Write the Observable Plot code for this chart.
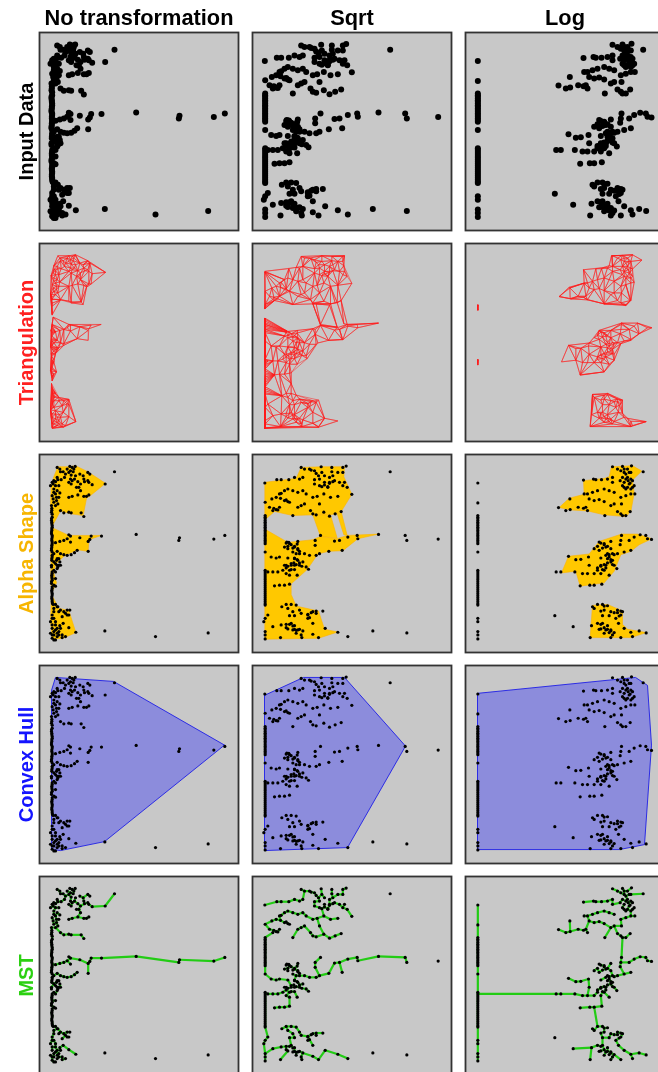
<!DOCTYPE html>
<html><head><meta charset="utf-8">
<script src="https://cdn.jsdelivr.net/npm/d3@7"></script>
<script src="https://cdn.jsdelivr.net/npm/@observablehq/plot@0.6"></script>
<style>html,body{margin:0;padding:0;background:#fff;overflow:hidden;width:658px;height:1072px}svg{display:block;filter:blur(.35px);max-width:none!important}</style>
</head><body><div id="c"></div>
<script>
const columns = ["No transformation", "Sqrt", "Log"];
const rows = ["Input Data", "Triangulation", "Alpha Shape", "Convex Hull", "MST"];
const rowColors = ["#000000", "#ff2020", "#f7b500", "#1414ff", "#2bd011"];

// point positions (1 unit = 1/3 pixel)
const rawPoints = [[170,135],[178,140],[188,148],[208,132],[224,132],[215,135],[205,150],[212,158],[218,148],[180,148],[172,172],[160,175],[155,180],[165,178],[182,172],[192,165],[210,170],[205,180],[225,160],[238,155],[248,160],[262,150],[268,155],[250,170],[232,178],[240,185],[252,178],[262,175],[275,187],[265,180],[212,185],[235,195],[240,205],[228,195],[205,225],[215,222],[232,218],[250,222],[265,218],[258,222],[160,200],[170,205],[165,215],[178,212],[175,225],[155,220],[168,235],[160,240],[172,245],[153,250],[180,265],[190,272],[205,270],[212,272],[242,272],[250,283],[153,270],[314,185],[303,342],[407,337],[537,347],[535,355],[640,351],[673,340],[272,342],[268,352],[263,358],[238,347],[205,338],[210,342],[200,350],[210,360],[190,355],[178,358],[165,362],[263,388],[230,385],[222,392],[212,398],[200,400],[190,398],[180,395],[170,388],[160,395],[155,390],[170,410],[178,420],[165,425],[172,435],[160,445],[175,430],[165,470],[160,490],[165,493],[165,548],[172,555],[160,560],[175,570],[200,565],[208,565],[195,575],[205,580],[185,585],[155,580],[160,590],[150,600],[188,605],[178,612],[205,618],[226,632],[155,620],[165,625],[175,630],[160,640],[155,650],[170,645],[185,640],[195,645],[150,635],[185,648],[342,148],
[154,258],[155,285],[153,295],[154,305],[155,315],[154,325],[153,335],[155,345],[154,355],[155,365],[154,375],[153,385],[155,405],[154,415],[153,435],[155,455],[154,465],[155,475],[153,485],[155,500],[154,510],[155,520],[154,530],[155,540],[158,548],
[154,264],[155,276],[153,290],[154,300],[155,310],[154,320],[153,330],[155,340],[154,350],[155,360],[154,370],[153,380],[155,400],[154,410],[153,430],[155,450],[154,460],[155,470],[153,480],[155,495],[154,505],[155,515],[154,525],[155,535],[156,545],
[168,415],[175,410],[160,420],[180,430],[170,440],[165,450],[170,430],[200,140],[195,155],[210,145],[220,140],[222,170],[215,175],[170,165],[158,185],[150,190],[165,190],[175,190],[160,210],[168,225],[158,230],[165,250],[170,555],[160,570],[180,565],[155,590],[165,600],[155,610],[165,610],[170,620],[180,620],[160,630],[170,635],[155,640],[165,655],[160,655],[175,640],[190,570],[200,580]];
const rawOutliers = [[313,628],[465,645],[623,634]];

const spineUpper = [280,285,290,295,300,305,310,315,320,325,330,335,340,345,350,355,360,365];
const spineLower = [445,450,456,462,468,474,480,486,492,498,504,510,516,522,528,534,540,546,550];
const sqrtPoints = [[170,135],[180,140],[195,140],[210,145],[230,133],[262,135],[262,148],[305,131],[295,135],[280,150],[295,150],[232,150],[240,160],[255,165],[265,160],[270,175],[255,180],[240,180],[225,170],[210,172],[210,185],[225,190],[250,195],[285,180],[300,180],[295,190],[308,195],[322,216],[61,182],[97,172],[110,172],[133,172],[150,165],[165,170],[175,165],[120,205],[130,200],[145,205],[160,210],[175,205],[185,215],[105,215],[95,225],[108,228],[120,235],[135,240],[82,230],[62,240],[75,255],[85,265],[95,262],[105,255],[170,250],[180,245],[160,255],[205,225],[218,222],[238,215],[258,225],[280,222],[225,245],[145,280],[198,265],[205,275],[215,278],[238,270],[255,282],[272,275],[290,268],[62,390],
[228,340],[212,355],[212,370],[270,357],[285,355],[310,345],[338,340],[340,350],[402,337],[482,340],[487,355],[127,360],[135,365],[160,358],[120,375],[130,380],[150,375],[160,380],[145,390],[155,395],[165,395],[180,395],[195,400],[215,400],[225,395],[253,388],[293,385],[80,405],[95,408],[105,405],[130,408],[150,410],[160,415],[175,420],[185,435],[192,442],[140,425],[125,430],[150,430],[165,430],[135,445],[115,445],[125,455],[135,460],[158,460],[100,450],[85,450],[70,450],[90,492],[105,490],[120,490],[135,487],
[112,555],[125,548],[140,548],[155,550],[130,560],[145,570],[165,565],[170,575],[190,580],[205,570],[215,575],[235,568],[150,582],[135,582],[190,590],[70,580],[62,590],[58,600],[205,605],[85,615],[110,610],[125,608],[140,605],[150,612],[130,622],[145,625],[160,625],[175,628],[155,635],[170,640],[242,620],[280,632],[310,645],[205,638],[222,648],[108,648],[62,630],[62,640],[62,652],[172,648],
[125,363],[133,361],[140,368],[150,373],[158,366],[145,378],[130,373],[160,383],[165,388],[150,408],[158,413],[148,423],[155,428],[165,423],[172,433],[140,430],[130,433],[120,430],[125,438],[140,443],[150,443],[200,143],[215,153],[222,160],[240,188],[255,183],[265,178],[250,193],[232,193],[110,213],[125,233],[130,238],[88,258],[100,263],[135,608],[145,613],[150,623],[155,626],[125,618],[165,623],[200,573],[190,578],[195,588],[215,568]];
const sqrtOutliers = [[437,148],[581,351],[385,628],[487,634]];

const logPoints = [[61,182],[61,242],[61,390],[61,590],[61,600],[61,630],[61,640],[61,652],
[465,133],[480,140],[495,132],[522,130],[510,140],[500,150],[515,150],[557,148],[495,165],[510,165],[520,170],[500,180],[515,185],[525,195],[495,190],[505,200],[378,173],[408,170],[415,172],[432,172],[450,170],[465,165],[465,180],[488,175],[380,215],[390,215],[405,210],[420,205],[440,200],[455,205],[470,210],[490,225],[505,220],[520,215],[532,215],[395,230],[410,235],[425,232],[440,238],[337,230],[303,256],[325,265],[338,262],[362,255],[378,258],[390,265],[385,255],[460,250],[470,245],[492,245],[442,280],[480,268],[490,275],[505,280],[518,268],[495,280],
[492,340],[490,355],[488,368],[515,355],[530,345],[548,338],[565,340],[570,350],[582,352],[425,360],[440,365],[460,358],[410,380],[425,385],[445,375],[460,380],[450,395],[465,395],[480,395],[500,390],[520,385],[333,403],[355,413],[370,412],[393,405],[430,408],[450,410],[465,415],[470,430],[478,440],[395,430],[430,430],[445,430],[420,445],[440,445],[455,460],[296,450],[310,450],[352,450],[375,455],[390,455],[410,455],[430,455],[368,492],[397,490],[410,490],[433,487],
[405,555],[420,548],[435,548],[450,552],[410,560],[440,565],[460,570],[480,565],[495,570],[490,580],[435,582],[455,582],[475,590],[347,615],[402,612],[420,605],[435,605],[450,612],[430,622],[445,625],[460,625],[440,635],[465,640],[483,605],[500,620],[520,632],[545,628],[566,634],[398,648],[490,648],[525,645],[460,648],
[490,145],[500,140],[505,155],[520,150],[505,170],[512,175],[525,175],[518,182],[500,195],[510,195],[520,200],[530,190],[430,363],[440,368],[450,373],[435,378],[420,373],[455,398],[460,413],[465,428],[450,423],[440,428],[430,433],[420,438],[435,443],[445,438],[470,398],[445,400],[455,405],[460,420],[430,608],[440,618],[450,623],[460,628],[470,633],[455,633],[425,623],[480,573],[490,568],[485,583],[470,573],[440,553],[430,568]];
const logOutliers = [[292,582]];

// outlines of the alpha shapes
const rawShapes = [
 [[172,55],[205,55],[225,52],[262,70],[315,105],[272,140],[258,150],[248,202],[212,197],[180,188],[155,234],[150,170],[152,115],[160,85]],
 [[158,240],[205,262],[302,262],[265,275],[263,310],[230,305],[190,325],[165,350],[160,375],[168,405],[155,432],[150,400],[152,350],[150,330],[152,280]],
 [[153,440],[175,482],[205,488],[226,555],[188,572],[155,575],[150,520]]];
const sqrtShapes = [
 [[61,102],[155,90],[170,57],[232,55],[300,55],[298,85],[322,138],[290,190],[278,196],[258,200],[205,200],[145,202],[90,190],[61,215]],
 [[205,200],[258,200],[278,270],[228,265]],
 [[278,196],[290,190],[308,262],[298,260]],
 [[61,243],[130,283],[205,275],[228,265],[278,272],[308,262],[402,258],[340,272],[295,308],[252,310],[220,318],[188,365],[140,408],[140,440],[155,475],[222,490],[240,545],[280,553],[222,572],[61,575]]];
const logShapes = [
 [[462,55],[525,52],[553,68],[525,95],[530,135],[520,190],[505,205],[440,200],[390,188],[340,185],[305,178],[335,150],[380,138],[378,97],[440,90],[455,85]],
 [[492,258],[540,258],[583,272],[545,290],[520,310],[490,320],[470,370],[440,405],[368,415],[355,370],[312,375],[333,325],[395,318],[425,280]],
 [[405,473],[450,470],[495,490],[495,530],[510,545],[566,555],[520,570],[398,570]],
 [[60,203],[62,203],[62,219],[60,219]],
 [[60,368],[62,368],[62,384],[60,384]]];

// convex hull outlines, panel units
const rawHull = [[36,555],[63,558],[195,531],[555,240],[222,48],[48,36],[36,75]];
const sqrtHull = [[36,90],[153,36],[276,36],[459,243],[285,549],[36,558]];
const logHull = [[36,84],[510,36],[546,60],[558,240],[537,540],[462,555],[36,555]];

const shift = (pts, dx, dy) => pts.map(([x, y]) => [x - dx, y - dy]);
const spine = (ys, x) => ys.map(y => [x, y]);

const panels = [
 {col: columns[0], main: shift(rawPoints, 117, 96), out: shift(rawOutliers, 117, 96),
  shapes: rawShapes.map(s => shift(s, 117, 18)), hull: rawHull},
 {col: columns[1], main: shift(sqrtPoints.concat(spine(spineUpper, 62), spine(spineLower, 62)), 24, 96), out: shift(sqrtOutliers, 24, 96),
  shapes: sqrtShapes.map(s => shift(s, 24, 18)), hull: sqrtHull},
 {col: columns[2], main: shift(logPoints.concat(spine(spineUpper, 61), spine(spineLower, 61)), 24, 96), out: shift(logOutliers, 24, 96),
  shapes: logShapes.map(s => shift(s, 24, 18)), hull: logHull}
];

const bigRows = [], smallRows = [], meshRows = [], fillRows = [], hullRows = [], mstRows = [];
for (const p of panels) {
  const all = p.main.concat(p.out);
  for (const [x, y] of all) {
    bigRows.push({col: p.col, x, y});
    for (const r of [2, 3, 4]) smallRows.push({col: p.col, row: rows[r], x, y});
  }
  p.shapes.forEach((s, i) => {
    s.concat([s[0]]).forEach(([x, y]) => fillRows.push({col: p.col, poly: i, x, y}));
    const verts = s.concat(all.filter(q => d3.polygonContains(s, q)));
    const t = d3.Delaunay.from(verts).triangles;
    const addEdge = (a, b) => meshRows.push({col: p.col, x1: verts[a][0], y1: verts[a][1], x2: verts[b][0], y2: verts[b][1]});
    for (let k = 0; k < t.length; k += 3) {
      const [a, b, c] = [t[k], t[k + 1], t[k + 2]];
      const cx = (verts[a][0] + verts[b][0] + verts[c][0]) / 3, cy = (verts[a][1] + verts[b][1] + verts[c][1]) / 3;
      if (!d3.polygonContains(s, [cx, cy])) continue;
      addEdge(a, b); addEdge(b, c); addEdge(c, a);
    }
    s.forEach((q, j) => addEdge(j, (j + 1) % s.length));
  });
  p.hull.concat([p.hull[0]]).forEach(([x, y]) => hullRows.push({col: p.col, x, y}));
  // minimum spanning tree over the Delaunay edges
  const verts = p.main;
  const del = d3.Delaunay.from(verts);
  const dist = (a, b) => Math.hypot(verts[a][0] - verts[b][0], verts[a][1] - verts[b][1]);
  const edges = [];
  for (let k = 0; k < del.halfedges.length; k++) {
    const j = del.halfedges[k];
    if (j !== -1 && j < k) continue;
    const a = del.triangles[k], b = del.triangles[k % 3 === 2 ? k - 2 : k + 1];
    edges.push([a, b, dist(a, b)]);
  }
  edges.sort((e, f) => e[2] - f[2]);
  const parent = verts.map((_, i) => i);
  const find = i => parent[i] === i ? i : (parent[i] = find(parent[i]));
  for (const [a, b] of edges) {
    const u = find(a), v = find(b);
    if (u === v) continue;
    parent[u] = v;
    mstRows.push({col: p.col, x1: verts[a][0], y1: verts[a][1], x2: verts[b][0], y2: verts[b][1]});
  }
}

const panelGray = "#c8c8c8";
const chart = Plot.plot({
  width: 665, height: 1075,
  marginLeft: 39, marginRight: 0, marginTop: 32, marginBottom: 0,
  fx: {domain: columns, axis: null, paddingInner: 0.068, paddingOuter: 0, align: 0},
  fy: {domain: rows, axis: null, paddingInner: 0.06, paddingOuter: 0, align: 0},
  x: {domain: [0, 597], axis: null},
  y: {domain: [0, 597], axis: null, reverse: true},
  marks: [
    Plot.frame({fill: panelGray, stroke: null}),
    Plot.link(meshRows, {fx: "col", fy: () => rows[1], x1: "x1", y1: "y1", x2: "x2", y2: "y2", stroke: "#ff1a1a", strokeWidth: 0.7, strokeOpacity: 0.7}),
    Plot.line(fillRows, {fx: "col", fy: () => rows[2], x: "x", y: "y", z: d => d.col + d.poly, fill: "#ffc800", stroke: "#ffb400", strokeWidth: 0.6}),
    Plot.line(hullRows, {fx: "col", fy: () => rows[3], x: "x", y: "y", z: "col", fill: "#8c8cdc", stroke: "#1e1ee6", strokeWidth: 0.9}),
    Plot.link(mstRows, {fx: "col", fy: () => rows[4], x1: "x1", y1: "y1", x2: "x2", y2: "y2", stroke: "#22cc14", strokeWidth: 2.2}),
    Plot.dot(bigRows, {fx: "col", fy: () => rows[0], x: "x", y: "y", r: 3, fill: "#000", stroke: null}),
    Plot.dot(smallRows, {fx: "col", fy: "row", x: "x", y: "y", r: 1.6, fill: "#000", stroke: null}),
    Plot.frame({stroke: "#333333", strokeWidth: 1.8}),
    Plot.text(columns, {fx: d => d, fy: () => rows[0], text: d => d, frameAnchor: "top", lineAnchor: "middle", dy: -14,
      fontFamily: "Liberation Sans", fontWeight: "bold", fontSize: 21.8, fill: "#000"}),
    Plot.text(rows, {fy: d => d, fx: () => columns[0], text: d => d, frameAnchor: "left", textAnchor: "middle", lineAnchor: "middle", rotate: -90, dx: -13,
      fontFamily: "Liberation Sans", fontWeight: "bold", fontSize: 20, fill: (d, i) => rowColors[i]})
  ],
  style: {background: "#fff", maxWidth: "none"}
});
document.getElementById("c").appendChild(chart);
</script></body></html>
